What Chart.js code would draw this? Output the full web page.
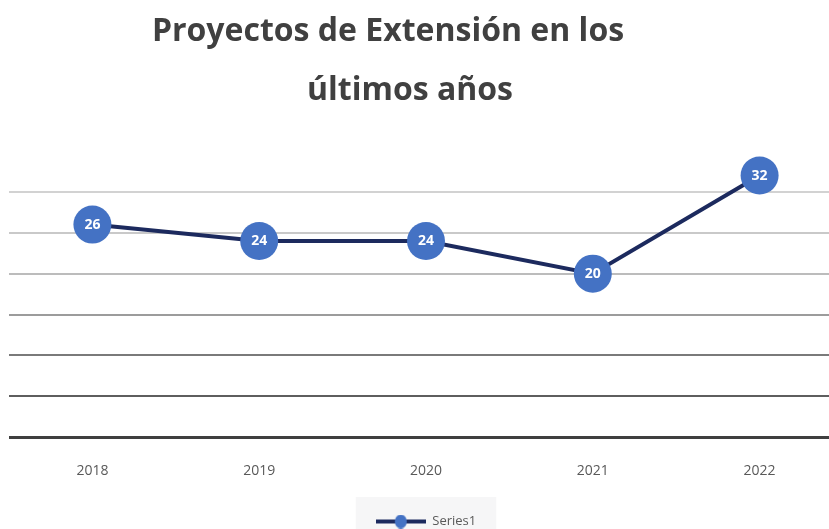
<!DOCTYPE html>
<html>
<head>
<meta charset="utf-8">
<script src="https://cdn.jsdelivr.net/npm/chart.js@4.4.0/dist/chart.umd.min.js"></script>
<style>
  html, body { margin:0; padding:0; background:#fff; overflow:hidden; }
  #caja { position:absolute; left:0; top:0; width:843px; height:538px; }
</style>
</head>
<body>
<div id="caja"><canvas id="grafico"></canvas></div>
<script>
// ===== Datos =====
const titulo = ['Proyectos de Extensión en los', 'últimos años'];
const anos = ['2018', '2019', '2020', '2021', '2022'];
const proyectos = [26, 24, 24, 20, 32];
const nombreSerie = 'Series1';
const marcasY = [0, 5, 10, 15, 20, 25, 30, 35];
// gris de cada línea de la grilla (de abajo hacia arriba)
const grisGrilla = ['#3f3f3f', '#5e5e5e', '#7a7a7a', '#9c9c9c', '#bcbcbc', '#c9c9c9', '#d2d2d2', 'rgba(0,0,0,0)'];

const azul = '#4472C4';
const marino = '#1C2A5E';

// icono de la leyenda: línea con círculo
function iconoLeyenda(){
  const c = document.createElement('canvas');
  c.width = 50; c.height = 14;
  const x = c.getContext('2d');
  x.strokeStyle = marino; x.lineWidth = 4;
  x.beginPath(); x.moveTo(0, 7); x.lineTo(50, 7); x.stroke();
  x.fillStyle = azul;
  x.beginPath(); x.ellipse(25, 7, 6, 7, 0, 0, Math.PI*2); x.fill();
  return c;
}
const icono = iconoLeyenda();

// ===== Plugins propios =====
const fondoLeyenda = {
  id: 'fondoLeyenda',
  beforeDraw(chart){
    const ctx = chart.ctx;
    ctx.save();
    ctx.fillStyle = '#fff';
    ctx.fillRect(0, 0, chart.width, chart.height);
    const hb = chart.legend && chart.legend.legendHitBoxes && chart.legend.legendHitBoxes[0];
    if (hb){
      ctx.fillStyle = '#f6f6f7';
      ctx.fillRect(hb.left - 20, hb.top - 18, hb.width + 40, hb.height + 40);
    }
    ctx.restore();
  }
};

const tituloPlugin = {
  id: 'tituloPlugin',
  afterDraw(chart){
    const ctx = chart.ctx;
    ctx.save();
    ctx.font = 'bold 32px "Open Sans"';
    ctx.fillStyle = '#404040';
    ctx.textAlign = 'center';
    ctx.textBaseline = 'middle';
    ctx.fillText(titulo[0], 388, 32);
    ctx.fillText(titulo[1], 410, 91);
    ctx.restore();
  }
};

const etiquetas = {
  id: 'etiquetas',
  afterDatasetsDraw(chart){
    const ctx = chart.ctx;
    const meta = chart.getDatasetMeta(0);
    ctx.save();
    ctx.font = 'bold 14px "Open Sans"';
    ctx.fillStyle = '#fff';
    ctx.textAlign = 'center';
    ctx.textBaseline = 'middle';
    meta.data.forEach((p, i) => ctx.fillText(String(proyectos[i]), p.x, p.y));
    ctx.restore();
  }
};

// ===== Gráfico =====
new Chart(document.getElementById('grafico'), {
  type: 'line',
  data: {
    labels: anos,
    datasets: [{
      label: nombreSerie,
      data: proyectos,
      borderColor: marino,
      borderWidth: 4,
      tension: 0,
      pointRadius: 19,
      pointHoverRadius: 19,
      pointBackgroundColor: azul,
      pointBorderWidth: 0,
      clip: false
    }]
  },
  options: {
    responsive: true,
    maintainAspectRatio: false,
    animation: false,
    events: [],
    layout: { autoPadding: false, padding: { top: 151, left: 9, right: 0, bottom: 0 } },
    plugins: {
      title: { display: false },
      tooltip: { enabled: false },
      legend: {
        display: true,
        position: 'bottom',
        labels: {
          usePointStyle: true,
          pointStyleWidth: 50,
          padding: 11,
          color: '#595959',
          font: { family: '"Open Sans"', size: 13 },
          generateLabels: () => [{
            text: nombreSerie, pointStyle: icono, fillStyle: azul,
            strokeStyle: marino, lineWidth: 0, hidden: false, datasetIndex: 0, fontColor: '#595959'
          }]
        }
      }
    },
    scales: {
      x: {
        offset: true,
        grid: { display: false, drawTicks: false },
        border: { display: false },
        ticks: { color: '#595959', padding: 25, font: { family: '"Open Sans"', size: 14 } }
      },
      y: {
        min: 0, max: 35,
        afterBuildTicks: ax => { ax.ticks = marcasY.map(v => ({ value: v })); },
        ticks: { display: false },
        border: { display: false },
        grid: {
          drawTicks: false,
          color: c => grisGrilla[c.index],
          lineWidth: c => c.index === 0 ? 3 : 2
        }
      }
    }
  },
  plugins: [fondoLeyenda, tituloPlugin, etiquetas]
});
</script>
</body>
</html>
